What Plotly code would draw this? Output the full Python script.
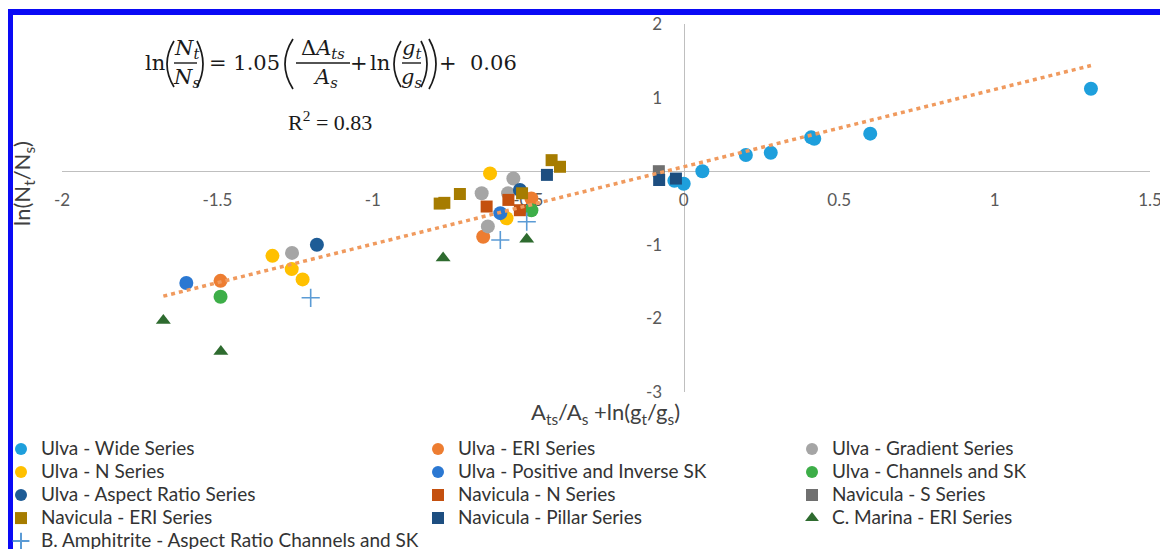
import plotly.graph_objects as go

# ---------------- data ----------------
wide_x = [-0.03, 0.00, 0.06, 0.20, 0.28, 0.41, 0.42, 0.60, 1.31]
wide_y = [-0.13, -0.17, 0.00, 0.22, 0.25, 0.46, 0.44, 0.51, 1.12]

eri_x = [-1.49, -0.645, -0.49]
eri_y = [-1.49, -0.89, -0.37]

grad_x = [-1.26, -0.65, -0.565, -0.548, -0.63]
grad_y = [-1.11, -0.30, -0.30, -0.10, -0.75]

n_x = [-1.323, -1.261, -1.226, -0.623, -0.57]
n_y = [-1.15, -1.33, -1.47, -0.03, -0.64]

posinv_x = [-1.60, -0.59]
posinv_y = [-1.52, -0.57]

chan_x = [-1.49, -0.49]
chan_y = [-1.705, -0.53]

aspect_x = [-1.18, -0.527]
aspect_y = [-1.00, -0.255]

navn_x = [-0.634, -0.564, -0.527]
navn_y = [-0.48, -0.39, -0.53]

navs_x = [-0.08]
navs_y = [0.00]

naveri_x = [-0.785, -0.77, -0.72, -0.52, -0.425, -0.398]
naveri_y = [-0.44, -0.43, -0.31, -0.30, 0.15, 0.06]

pillar_x = [-0.44, -0.079, -0.025]
pillar_y = [-0.05, -0.12, -0.10]

marina_x = [-1.674, -1.489, -0.774, -0.505]
marina_y = [-2.03, -2.45, -1.18, -0.925]

amph_x = [-1.20, -0.59, -0.505]
amph_y = [-1.72, -0.935, -0.686]

fit_slope = 1.05
fit_intercept = 0.06

x_ticks = [-2, -1.5, -1, -0.5, 0, 0.5, 1, 1.5]
x_ticktext = ["-2", "-1.5", "-1", "-0.5", "0", "0.5", "1", "1.5"]
y_ticks = [-3, -2, -1, 1, 2]
y_ticktext = ["-3", "-2", "-1", "1", "2"]

# ---------------- layout geometry ----------------
W, H = 1160, 549
L, R, T, B = 62, 10, 24, 157
PW = W - L - R
PH = H - T - B


def px(x):
    return (x - L) / PW


def py(y):
    return (H - B - y) / PH


LEG_FS = 15.4


def nm(s):
    return '<span style="font-size:19px">' + s + '</span>'


series = [
    ("Ulva - Wide Series", wide_x, wide_y, "circle", "#1E9FDC", 14, "legend"),
    ("Ulva - ERI Series", eri_x, eri_y, "circle", "#ED7D31", 14, "legend2"),
    ("Ulva - Gradient Series", grad_x, grad_y, "circle", "#A5A5A5", 14, "legend3"),
    ("Ulva - N Series", n_x, n_y, "circle", "#FFC000", 14, "legend"),
    ("Ulva - Positive and Inverse SK", posinv_x, posinv_y, "circle", "#2B78D2", 14, "legend2"),
    ("Ulva - Channels and SK", chan_x, chan_y, "circle", "#3DAE48", 14, "legend3"),
    ("Ulva - Aspect Ratio Series", aspect_x, aspect_y, "circle", "#1E5C96", 14, "legend"),
    ("Navicula - N Series", navn_x, navn_y, "square", "#C4500F", 12, "legend2"),
    ("Navicula - S Series", navs_x, navs_y, "square", "#707070", 12, "legend3"),
    ("Navicula - ERI Series", naveri_x, naveri_y, "square", "#A67C00", 12, "legend"),
    ("Navicula - Pillar Series", pillar_x, pillar_y, "square", "#1D4E80", 12, "legend2"),
    ("C. Marina - ERI Series", marina_x, marina_y, "triangle-up", "#2E6B2F", 13, "legend3"),
]

fig = go.Figure()
for name, xs, ys, sym, col, size, leg in series:
    fig.add_trace(go.Scatter(
        x=xs, y=ys, mode="markers", name=nm(name), legend=leg,
        marker=dict(symbol=sym, color=col, size=size, line=dict(width=0)),
    ))

fig.add_trace(go.Scatter(
    x=amph_x, y=amph_y, mode="markers", name=nm("B. Amphitrite - Aspect Ratio Channels and SK"),
    legend="legend",
    marker=dict(symbol="cross-thin", color="#5B9BD5", size=13,
                line=dict(width=1.6, color="#5B9BD5")),
))

all_x = wide_x + eri_x + grad_x + n_x + posinv_x + chan_x + aspect_x + navn_x + navs_x + naveri_x + pillar_x + marina_x + amph_x
xmin, xmax = min(all_x), max(all_x)
fig.add_trace(go.Scatter(
    x=[xmin, xmax], y=[fit_slope * xmin + fit_intercept, fit_slope * xmax + fit_intercept],
    mode="lines", showlegend=False, hoverinfo="skip",
    line=dict(color="#F09A5E", width=3.5, dash="4px,4px"),
))

axis_font = dict(family="Lato", size=17, color="#595959")

legend_common = dict(yanchor="top", xanchor="left",
                     font=dict(family="Lato", size=LEG_FS, color="#333333"),
                     bgcolor="rgba(0,0,0,0)", itemsizing="constant", itemwidth=30)

fig.update_layout(
    width=W, height=H,
    margin=dict(l=L, r=R, t=T, b=B, autoexpand=False),
    paper_bgcolor="white", plot_bgcolor="white",
    font=dict(family="Lato", color="#404040"),
    xaxis=dict(
        range=[-2, 1.5], anchor="free", position=0.6, layer="below traces",
        showline=True, linecolor="#BFBFBF", linewidth=1.3,
        showgrid=False, zeroline=False, ticks="",
        tickvals=x_ticks, ticktext=x_ticktext, tickfont=axis_font,
        ticklabelstandoff=13, ticklabeloverflow="allow", automargin=False,
    ),
    yaxis=dict(
        range=[-3, 2], anchor="free", position=2 / 3.5, layer="below traces",
        showline=True, linecolor="#BFBFBF", linewidth=1.3,
        showgrid=False, zeroline=False, ticks="",
        tickvals=y_ticks, ticktext=y_ticktext, tickfont=axis_font,
        ticklabelstandoff=18, automargin=False,
    ),
    legend=dict(x=px(1), y=py(432.5), **legend_common),
    legend2=dict(x=px(418), y=py(432.5), **legend_common),
    legend3=dict(x=px(792), y=py(432.5), **legend_common),
    showlegend=True,
)

ann = []
shapes = []


def text(s, x, y, size=21, family="DejaVu Serif", color="#1a1a1a", angle=0):
    ann.append(dict(text=s, x=px(x), y=py(y), xref="paper", yref="paper",
                    xanchor="center", yanchor="middle", showarrow=False,
                    textangle=angle, font=dict(family=family, size=size, color=color)))


def hline(x0, x1, y, w=1.4):
    shapes.append(dict(type="line", xref="paper", yref="paper",
                       x0=px(x0), x1=px(x1), y0=py(y), y1=py(y),
                       line=dict(color="#1a1a1a", width=w)))


def paren(x_end, extreme, ytop=41, ybot=87):
    cx = 2 * extreme - x_end
    ym = (ytop + ybot) / 2
    path = f"M {px(x_end)},{py(ytop)} Q {px(cx)},{py(ym)} {px(x_end)},{py(ybot)}"
    shapes.append(dict(type="path", xref="paper", yref="paper", path=path,
                       line=dict(color="#1a1a1a", width=1.7)))


# equation  ln(Nt/Ns) = 1.05 (ΔAts/As + ln(gt/gs)) + 0.06
text("ln", 155, 63)
paren(174, 167)
text("<i>N<sub>t</sub></i>", 186, 49)
hline(174, 197, 63)
text("<i>N<sub>s</sub></i>", 186, 78)
paren(197, 203)
text("= 1.05", 244, 63)
paren(293, 285, 39, 89)
text("Δ<i>A<sub>ts</sub></i>", 323, 49)
hline(296, 350, 63)
text("<i>A<sub>s</sub></i>", 325, 78)
text("+", 359, 63)
text("ln", 380, 63)
paren(401, 394)
text("<i>g<sub>t</sub></i>", 411, 49)
hline(402, 421, 63)
text("<i>g<sub>s</sub></i>", 411, 78)
paren(421, 427)
paren(429, 436, 39, 89)
text("+", 448, 63)
text("0.06", 493, 63)
text("R<sup>2</sup> = 0.83", 330, 121, size=22, family="Liberation Serif")

# axis titles
text("A<sub>ts</sub>/A<sub>s</sub> +ln(g<sub>t</sub>/g<sub>s</sub>)", 605, 413,
     size=22, family="Lato", color="#404040")
text("ln(N<sub>t</sub>/N<sub>s</sub>)", 23, 184, size=22, family="Lato",
     color="#404040", angle=-90)

# blue frame
shapes.append(dict(type="rect", xref="paper", yref="paper", x0=px(8), x1=px(1165),
                   y0=py(15), y1=py(9), fillcolor="#0A0AF5", line=dict(width=0)))
shapes.append(dict(type="rect", xref="paper", yref="paper", x0=px(8), x1=px(13),
                   y0=py(560), y1=py(9), fillcolor="#0A0AF5", line=dict(width=0)))

fig.update_layout(annotations=ann, shapes=shapes)

fig.write_html(
    "out.html",
    config={"displayModeBar": False},
    post_script="document.body.style.margin='0px';document.body.style.overflow='hidden';",
)
